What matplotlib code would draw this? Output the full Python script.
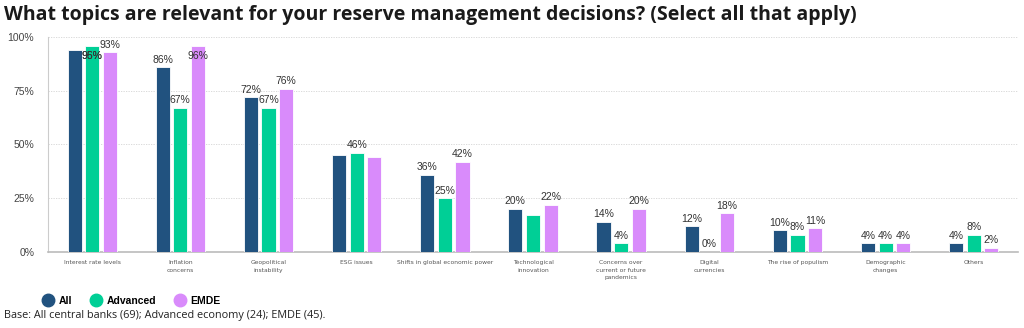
import numpy as np
import matplotlib.pyplot as plt
from matplotlib.lines import Line2D

categories = ["Interest rate levels", "Inflation\nconcerns", "Geopolitical\ninstability",
              "ESG issues", "Shifts in global economic power", "Technological\ninnovation",
              "Concerns over\ncurrent or future\npandemics", "Digital\ncurrencies",
              "The rise of populism", "Demographic\nchanges", "Others"]
all_cb = [94, 86, 72, 45, 36, 20, 14, 12, 10, 4, 4]
advanced = [96, 67, 67, 46, 25, 17, 4, 0, 8, 4, 8]
emde = [93, 96, 76, 44, 42, 22, 20, 18, 11, 4, 2]

# which bars got a value label in the original (None = no label)
all_lbl = [None, 86, 72, None, 36, 20, 14, 12, 10, 4, 4]
adv_lbl = [96, 67, 67, 46, 25, None, 4, 0, 8, 4, 8]
emde_lbl = [93, 96, 76, None, 42, 22, 20, 18, 11, 4, 2]

series = [("All", all_cb, all_lbl, "#21527f"),
          ("Advanced", advanced, adv_lbl, "#00cf96"),
          ("EMDE", emde, emde_lbl, "#d98bfb")]

fig = plt.figure(figsize=(10.24, 3.28), dpi=100)
ax = fig.add_axes([0.047, 0.232, 0.947, 0.655])

x = np.arange(len(categories))
w = 0.16
for i, (name, vals, lbls, col) in enumerate(series):
    xs = x + (i - 1) * 0.2
    ax.bar(xs, vals, width=w, color=col, edgecolor="white", linewidth=0.6, zorder=3)
    for xi, v in zip(xs, lbls):
        if v is None:
            continue
        if v > 94:
            ax.text(xi, v - 2.5, f"{v}%", ha="center", va="top", fontsize=7.5,
                    family="Liberation Sans", color="#333333", zorder=4)
        else:
            ax.text(xi, v + 1.2, f"{v}%", ha="center", va="bottom", fontsize=7.5,
                    family="Liberation Sans", color="#333333", zorder=4)
# overlapping label seen on the first group
ax.text(x[0], 93.5, "95%", ha="center", va="top", fontsize=7.5,
        family="Liberation Sans", color="#333333", zorder=4)

ax.set_xlim(-0.5, len(categories) - 0.5)
ax.set_ylim(0, 100)
ax.set_yticks([0, 25, 50, 75, 100])
ax.set_yticklabels(["0%", "25%", "50%", "75%", "100%"], fontsize=7.5,
                   family="Liberation Sans", color="#444444")
ax.set_xticks(x)
ax.set_xticklabels(categories, fontsize=4.3, color="#555555", linespacing=1.6)
ax.tick_params(axis="both", length=0)
ax.tick_params(axis="x", pad=6)
ax.tick_params(axis="y", pad=10)
ax.grid(axis="y", color="#d4d4d4", linestyle=(0, (1.5, 1.5)), linewidth=0.6, zorder=0)
for s in ["top", "right"]:
    ax.spines[s].set_visible(False)
ax.spines["left"].set_color("#cccccc")
ax.spines["left"].set_linewidth(0.8)
ax.spines["bottom"].set_color("#bbbbbb")
ax.spines["bottom"].set_linewidth(1.2)

fig.text(0.004, 0.955, "What topics are relevant for your reserve management decisions? (Select all that apply)",
         fontsize=14, fontweight="bold", family="Open Sans", color="#1a1a1a", va="center")

handles = [Line2D([], [], marker="o", linestyle="none", markersize=9, color=c) for _, _, _, c in series]
fig.legend(handles, [s[0] for s in series], loc="center left", bbox_to_anchor=(0.030, 0.083),
           ncol=3, frameon=False, handletextpad=0.3, columnspacing=1.5, handlelength=1.5,
           prop={"family": "Liberation Sans", "weight": "bold", "size": 7.5})

fig.text(0.004, 0.038, "Base: All central banks (69); Advanced economy (24); EMDE (45).",
         fontsize=7.8, family="Open Sans", color="#222222", va="center")

fig.savefig("out.png", dpi=100)
